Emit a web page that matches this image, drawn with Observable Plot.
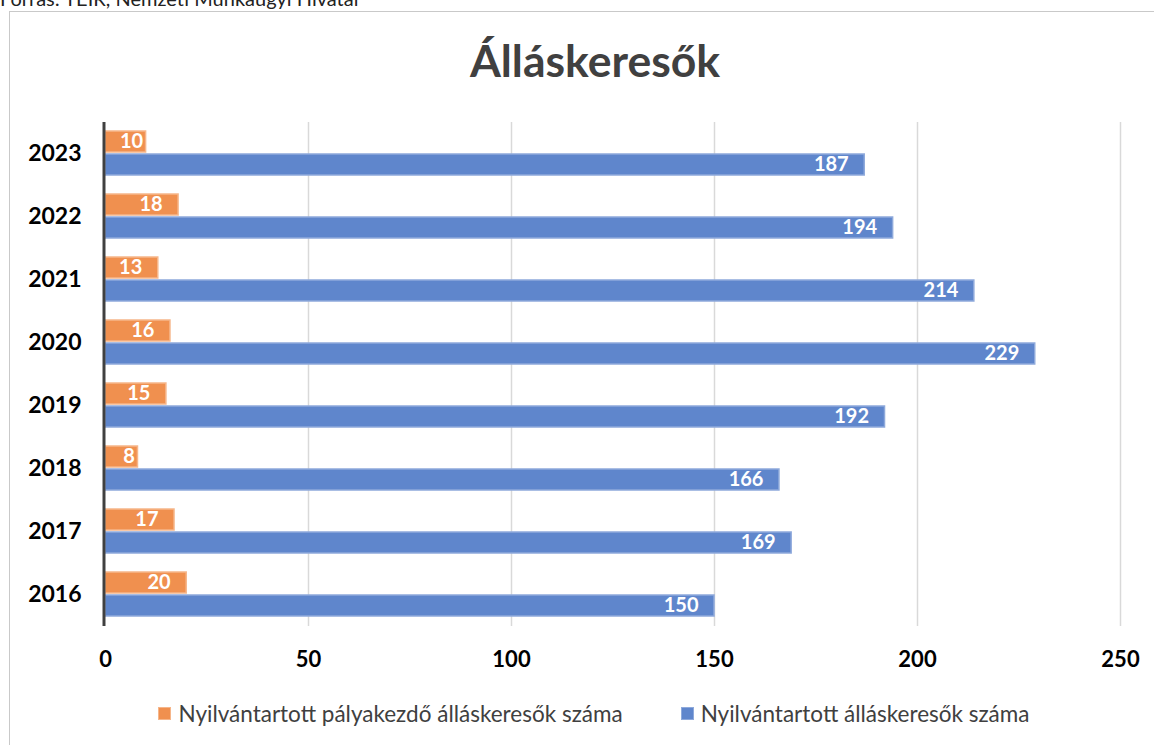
<!DOCTYPE html>
<html>
<head>
<meta charset="utf-8">
<script src="https://cdn.jsdelivr.net/npm/d3@7"></script>
<script src="https://cdn.jsdelivr.net/npm/@observablehq/plot@0.6"></script>
<style>
  html, body { margin: 0; padding: 0; background: #fff; overflow: hidden; }
  body { width: 1154px; height: 745px; position: relative; font-family: Lato, "Open Sans", sans-serif; }
  #source { position: absolute; left: 0; top: -14px; font-size: 20px; color: #222; white-space: nowrap; }
  #frame { position: absolute; left: 9px; top: 11px; width: 1200px; height: 800px; border-left: 1.5px solid #c9c9c9; border-top: 1.5px solid #c9c9c9; }
  #title { position: absolute; left: 0; top: 33px; width: 1190px; text-align: center; font-size: 44.5px; font-weight: bold; color: #404040; }
  #chart { position: absolute; left: 0; top: 0; }
  #legend { position: absolute; left: 0; top: 700px; width: 1188px; display: flex; justify-content: center; gap: 58px; font-size: 22.5px; color: #404040; }
  .item { display: flex; align-items: center; }
  .sw { width: 13px; height: 13px; margin-right: 7px; box-sizing: border-box; }
</style>
</head>
<body>
<div id="source">Forrás: TEIR, Nemzeti Munkaügyi Hivatal</div>
<div id="frame"></div>
<div id="title">Álláskeresők</div>
<div id="chart"></div>
<div id="legend"></div>
<script>
const years = ["2023", "2022", "2021", "2020", "2019", "2018", "2017", "2016"];
const seriesNames = ["Nyilvántartott pályakezdő álláskeresők száma", "Nyilvántartott álláskeresők száma"];
const palyakezdo = [10, 18, 13, 16, 15, 8, 17, 20];
const osszes = [187, 194, 214, 229, 192, 166, 169, 150];
const xTicks = [0, 50, 100, 150, 200, 250];
const fills = ["#F0904F", "#5F86CC"];
const strokes = ["#F6B68A", "#8EA9DB"];

const data = [];
years.forEach((y, i) => {
  data.push({year: y, series: seriesNames[0], value: palyakezdo[i]});
  data.push({year: y, series: seriesNames[1], value: osszes[i]});
});
const fitLabels = data.filter(d => d.value >= 12);
const smallLabels = data.filter(d => d.value < 12);

const chart = Plot.plot({
  width: 1154,
  height: 700,
  marginLeft: 105,
  marginRight: 34,
  marginTop: 122,
  marginBottom: 74,
  style: {fontFamily: "Lato, 'Open Sans', sans-serif", background: "transparent"},
  x: {domain: [0, 250]},
  y: {domain: seriesNames, axis: null, paddingInner: 0.08, paddingOuter: 0.36},
  fy: {domain: years, padding: 0},
  color: {domain: seriesNames, range: fills},
  marks: [
    Plot.gridX(xTicks.filter(t => t > 0), {stroke: "#d9d9d9", strokeOpacity: 1, strokeWidth: 1.5}),
    Plot.barX(data, {x: "value", y: "series", fy: "year", fill: "series",
      stroke: d => strokes[seriesNames.indexOf(d.series)], strokeWidth: 1.5, inset: 0}),
    Plot.text(fitLabels, {x: "value", y: "series", fy: "year", text: d => String(d.value),
      textAnchor: "end", dx: -16, fill: "white", fontWeight: "bold", fontSize: 20}),
    Plot.text(smallLabels, {x: "value", y: "series", fy: "year", text: d => String(d.value),
      textAnchor: "end", dx: -3, fill: "white", fontWeight: "bold", fontSize: 20}),
    Plot.ruleX([0], {stroke: "#404040", strokeWidth: 3, dx: -1.5}),
    Plot.axisFy({anchor: "left", tickSize: 0, tickPadding: 24, fontSize: 23, fontWeight: "bold", label: null, color: "#000"}),
    Plot.axisX({ticks: xTicks, tickSize: 0, tickPadding: 25, fontSize: 22, fontWeight: "bold", label: null, color: "#000"})
  ]
});
document.getElementById("chart").appendChild(chart);

const legend = document.getElementById("legend");
seriesNames.forEach((s, i) => {
  const item = document.createElement("div");
  item.className = "item";
  const sw = document.createElement("div");
  sw.className = "sw";
  sw.style.background = fills[i];
  sw.style.border = "1px solid " + strokes[i];
  const t = document.createElement("span");
  t.textContent = s;
  item.appendChild(sw);
  item.appendChild(t);
  legend.appendChild(item);
});
</script>
</body>
</html>
